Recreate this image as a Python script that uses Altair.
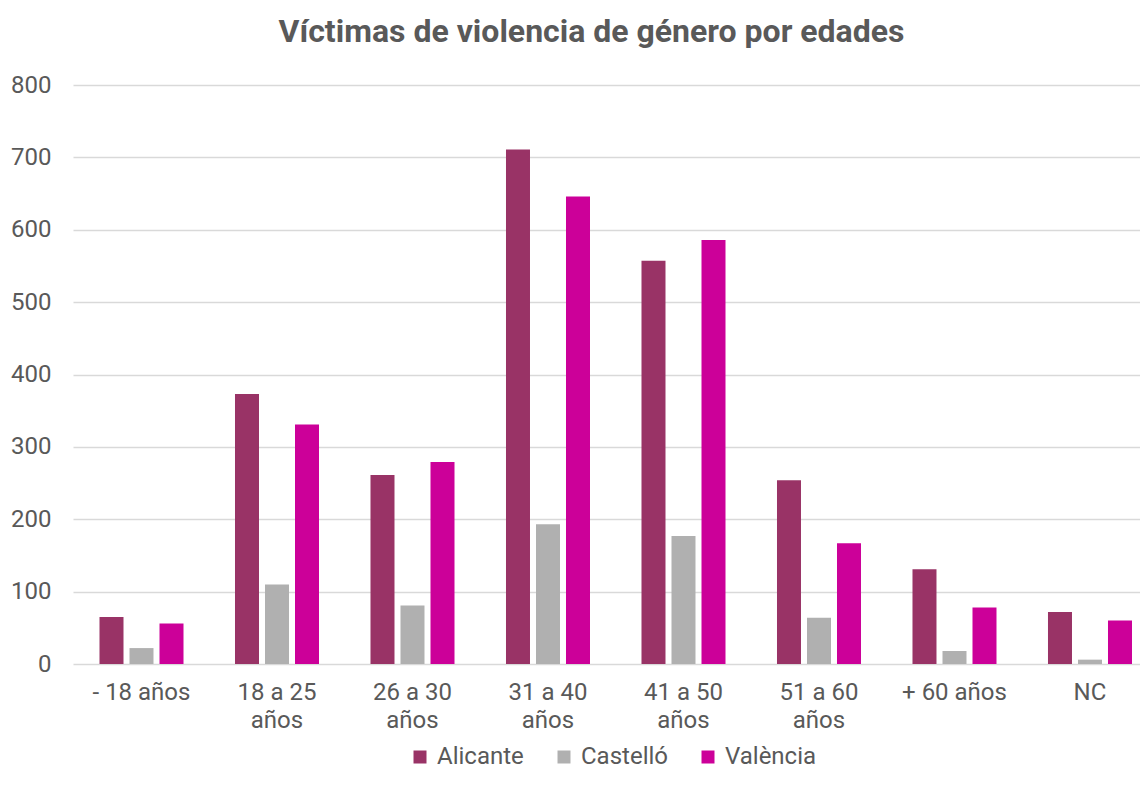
import altair as alt
import pandas as pd

categorias = ["- 18 años", "18 a 25 años", "26 a 30 años", "31 a 40 años",
              "41 a 50 años", "51 a 60 años", "+ 60 años", "NC"]
provincias = ["Alicante", "Castelló", "València"]
alicante = [65, 373, 261, 711, 557, 254, 131, 72]
castello = [22, 110, 81, 193, 177, 64, 18, 6]
valencia = [56, 331, 279, 646, 586, 167, 78, 60]
colores = ["#993366", "#B0B0B0", "#CC0099"]
ticks_y = [0, 100, 200, 300, 400, 500, 600, 700, 800]

rows = []
for serie, nombre in zip([alicante, castello, valencia], provincias):
    for c, v in zip(categorias, serie):
        rows.append({"Edad": c, "Provincia": nombre, "Víctimas": v})
df = pd.DataFrame(rows)

label_color = "#595959"
font = "Roboto"

chart = alt.Chart(df).mark_bar().encode(
    x=alt.X("Edad:N", sort=categorias, title=None,
            scale=alt.Scale(paddingInner=0.38, paddingOuter=0.1273, align=0.768),
            axis=alt.Axis(labelAngle=0, domain=False, ticks=False, grid=False,
                          labelFontSize=24, labelColor=label_color, labelFont=font,
                          labelPadding=16, labelLineHeight=28,
                          labelExpr="indexof(datum.value, ' a ') >= 0 ? [replace(datum.value, ' años', ''), 'años'] : datum.value")),
    xOffset=alt.XOffset("Provincia:N", sort=provincias,
                        scale=alt.Scale(paddingInner=0.2)),
    y=alt.Y("Víctimas:Q", title=None,
            scale=alt.Scale(domain=[0, 800], nice=False),
            axis=alt.Axis(values=ticks_y, domain=False, ticks=False, grid=True,
                          gridColor="#D9D9D9", gridWidth=1.5,
                          labelFontSize=24, labelColor=label_color, labelFont=font,
                          labelPadding=22)),
    color=alt.Color("Provincia:N", sort=provincias,
                    scale=alt.Scale(domain=provincias, range=colores),
                    legend=alt.Legend(title=None, orient="none", direction="horizontal",
                                      legendX=335, legendY=660,
                                      symbolType="square", symbolSize=169,
                                      symbolStrokeWidth=0,
                                      labelFontSize=24, labelColor=label_color,
                                      labelFont=font, labelOffset=5,
                                      columnPadding=28)),
).properties(
    width=1067,
    height=579,
    autosize="none",
    padding={"left": 65, "top": 77, "right": 0, "bottom": 108},
    title=alt.TitleParams(
        "Víctimas de violencia de género por edades",
        font=font, fontSize=32, fontWeight="bold", color=label_color,
        anchor="middle", frame="group", dx=-15, offset=24,
    ),
).configure_view(stroke=None)

chart.save("out.html", embed_options={"renderer": "svg", "actions": False})
